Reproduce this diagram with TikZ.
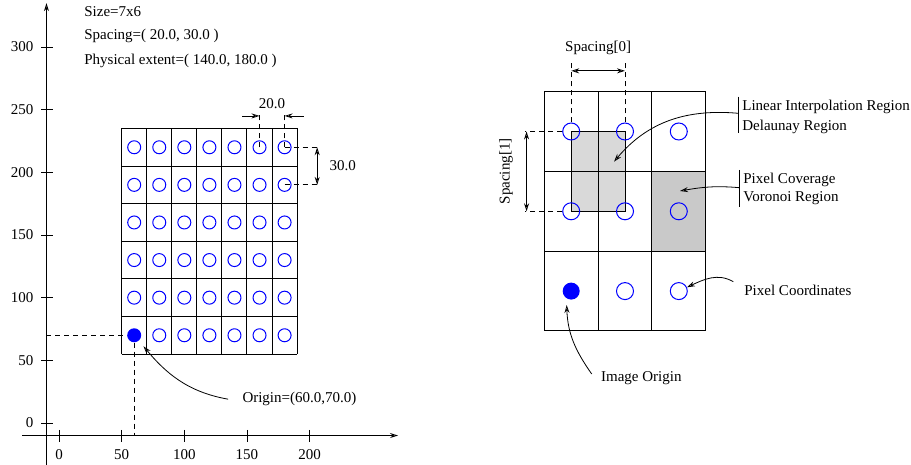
\documentclass[tikz,border=0pt]{standalone}
\usepackage{fontspec}
\setmainfont{Liberation Serif}
\usetikzlibrary{arrows.meta}

\begin{document}
\begin{tikzpicture}[x=1pt, y=1pt, font=\fontsize{15}{18}\selectfont,
	>={Stealth[open,length=8pt,width=5pt]}, line width=0.8pt,
	pix/.style={circle,draw=blue,line width=1pt,minimum size=13pt,inner sep=0pt},
	orig/.style={circle,fill=blue,minimum size=14pt,inner sep=0pt},
	big pix/.style={pix,minimum size=17pt},
	big orig/.style={orig,minimum size=17pt},
	txt/.style={inner sep=2pt},
	dash line/.style={dash pattern=on 5pt off 4pt}]

	\useasboundingbox (0,0) rectangle (911,465);

	% physical image
	\node[txt,anchor=west] (size) at (82,453) {Size=7x6};
	\node[txt,anchor=west] (spc) at (82,429) {Spacing=( 20.0, 30.0 )};
	\node[txt,anchor=west] (ext) at (82,404) {Physical extent=( 140.0, 180.0 )};

	\begin{scope}[shift={(59,42)}, x=1.2533pt, y=1.2533pt]
	\coordinate (xs) at (-29.5,-10);
	\coordinate (xe) at (270.5,-10);
	\coordinate (ys) at (-10,-33.5);
	\coordinate (ye) at (-10,335);
	\draw[->] (xs) -- (xe);
	\draw[->] (ys) -- (ye);
	\foreach \v in {0,50,...,300} {
		\draw (-14,\v) -- (-5,\v);
		\node[txt,anchor=east] (ty\v) at (-18.5,\v) {\v};
	}
	\foreach \u in {0,50,...,200} {
		\draw (\u,-5.5) -- (\u,-15);
		\node[txt] (tx\u) at (\u,-25.5) {\u};
	}

	\draw[line width=1pt, shift={(50,55)}] (0,0) grid[xstep=20,ystep=30] (140,180);
	\foreach \i in {0,...,6} \foreach \j in {0,...,5} {
		\ifnum\i\j=0
			\node[orig] (p-\i-\j) at (60+20*\i,70+30*\j) {};
		\else
			\node[pix] (p-\i-\j) at (60+20*\i,70+30*\j) {};
		\fi
	}

	% origin
	\coordinate (oy) at (-10,70);
	\coordinate (ox) at (60,-10);
	\draw[dash line] (oy) -- (p-0-0);
	\draw[dash line] (p-0-0) -- (ox);
	\node[txt,anchor=west] (olbl) at (144.5,19) {Origin=(60.0,70.0)};
	\draw[->, shorten >=7pt] ([xshift=-12pt]olbl.west) to[out=170,in=-50] (p-0-0);

	% spacing
	\draw[dash line] (p-5-5.center) -- (160,248);
	\draw[dash line] (p-6-5.center) -- (180,248);
	\draw[<-] (160,245) -- ++(-14,0);
	\draw[<-] (180,245) -- ++(15.5,0);
	\node[txt] (dx) at (170,255) {20.0};
	\draw[dash line] (p-6-5.center) -- (208,220);
	\draw[dash line] (p-6-4.center) -- (208,190);
	\draw[<->] (206,220) -- (206,190);
	\node[txt,anchor=west] (dy) at (214,205) {30.0};
	\end{scope}

	% index grid
	\begin{scope}[shift={(544.3,134)}, x=53.8pt, y=79.8pt]
	\fill[gray!42] (2,1) rectangle (3,2);
	\filldraw[fill=gray!30, line width=1pt] (0.5,1.5) rectangle (1.5,2.5);
	\draw[line width=1pt] (0,0) grid[step=1] (3,3);
	\foreach \i in {0,1,2} \foreach \j in {0,1,2} {
		\ifnum\i\j=0
			\node[big orig] (q-\i-\j) at (\i+0.5,\j+0.5) {};
		\else
			\node[big pix] (q-\i-\j) at (\i+0.5,\j+0.5) {};
		\fi
	}

	\draw[dash line] (q-0-2) -- (0.5,3.37);
	\draw[dash line] (q-1-2) -- (1.5,3.37);
	\draw[<->] (0.5,3.26) -- (1.5,3.26);
	\node[txt] (sp0) at (1,3.55) {Spacing[0]};
	\draw[dash line] (q-0-2) -- (-0.36,2.5);
	\draw[dash line] (q-0-1) -- (-0.36,1.5);
	\draw[<->] (-0.33,2.5) -- (-0.33,1.5);
	\node[txt,rotate=90] (sp1) at (-0.71,2) {Spacing[1]};
	\end{scope}

	% annotations
	\coordinate (b1t) at (738.3,368.3);
	\coordinate (b1b) at (738.3,332.3);
	\draw (b1t) -- (b1b);
	\node[txt,anchor=west] (lin) at (740,357.7) {Linear Interpolation Region};
	\node[txt,anchor=west] (del) at (740,337.7) {Delaunay Region};
	\coordinate (b1) at (738.3,351.7);
	\coordinate (dlin) at (614,303.3);
	\draw[->] (b1) to[out=175,in=50] (dlin);

	\coordinate (b2t) at (739.3,295);
	\coordinate (b2b) at (739.3,258);
	\draw (b2t) -- (b2b);
	\node[txt,anchor=west] (cov) at (741,285) {Pixel Coverage};
	\node[txt,anchor=west] (vor) at (741,266.7) {Voronoi Region};
	\coordinate (b2) at (739.3,277.3);
	\coordinate (dvor) at (680,274);
	\draw[->] (b2) to[out=175,in=10] (dvor);

	\node[txt,anchor=west] (pc) at (742,175) {Pixel Coordinates};
	\coordinate (pcs) at (733.3,183.3);
	\draw[->] (pcs) to[out=150,in=25] (q-2-0);

	\node[txt,anchor=west] (io) at (598.7,87.3) {Image Origin};
	\coordinate (ios) at (591.7,91);
	\coordinate (iot) at (566.7,160);
	\draw[->] (ios) to[out=125,in=-88] (iot);
\end{tikzpicture}
\end{document}
